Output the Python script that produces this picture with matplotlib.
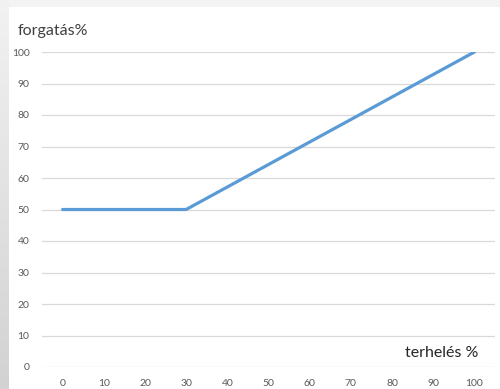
import numpy as np
import matplotlib
matplotlib.use("Agg")
import matplotlib.pyplot as plt
from matplotlib.patches import Rectangle

# Load (%) versus rotation speed (%)
load_pct = [0, 30, 100]
speed_pct = [50, 50, 100]
x_ticks = [0, 10, 20, 30, 40, 50, 60, 70, 80, 90, 100]
y_ticks = [0, 10, 20, 30, 40, 50, 60, 70, 80, 90, 100]

plt.rcParams['font.family'] = ['Lato', 'DejaVu Sans']

W, H = 500, 389
fig = plt.figure(figsize=(W / 100, H / 100), dpi=100)
fig.patch.set_facecolor('#F3F3F3')

# Left shaded strip with a vertical gradient
strip = fig.add_axes([0, 0, 9 / W, 1])
grad = np.linspace(0, 1, 256).reshape(-1, 1)
strip.imshow(grad, aspect='auto', cmap=matplotlib.colors.LinearSegmentedColormap.from_list(
    'g', ['#F2F2F2', '#D2D2D2']), extent=[0, 1, 0, 1], origin='upper')
strip.set_axis_off()

# White chart panel
fig.add_artist(Rectangle((9 / W, 0), 1 - 9 / W, 1 - 7 / H,
                         transform=fig.transFigure, facecolor='white',
                         edgecolor='none', zorder=0))

ax = fig.add_axes([42 / W, 1 - 367 / H, (495 - 42) / W, (367 - 52) / H])
ax.set_facecolor('none')
ax.plot(load_pct, speed_pct, color='#5B9BD5', linewidth=2.3,
        solid_capstyle='round', zorder=3)

ax.set_xlim(-5, 105)
ax.set_ylim(0, 100)
ax.set_xticks(x_ticks)
ax.set_yticks(y_ticks)
ax.grid(axis='y', color='#D9D9D9', linewidth=0.9)
ax.set_axisbelow(True)
for s in ax.spines.values():
    s.set_visible(False)
ax.tick_params(axis='both', length=0, labelsize=7.5, labelcolor='#595959')
ax.tick_params(axis='y', pad=9)
ax.tick_params(axis='x', pad=8.5)

fig.text(18 / W, 1 - 31 / H, 'forgatás%', fontsize=11.5, color='#404040',
         ha='left', va='center')
fig.text(478 / W, 1 - 353 / H, 'terhelés %', fontsize=11.5, color='#262626',
         ha='right', va='center')

fig.savefig('out.png', dpi=100)
